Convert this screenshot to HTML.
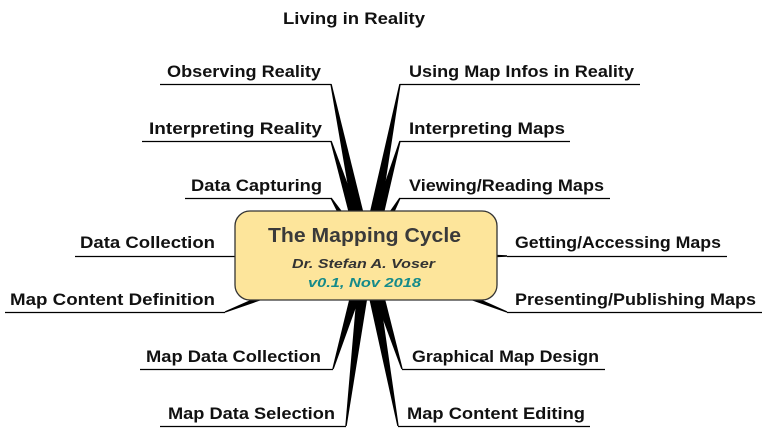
<!DOCTYPE html>
<html><head><meta charset="utf-8"><style>
body{margin:0;background:#fff;}
svg text{font-family:"Liberation Sans","DejaVu Sans",sans-serif;font-weight:bold;font-size:16.5px;fill:#111;}
</style></head><body>
<svg id="s" width="768" height="433" viewBox="0 0 768 433" xmlns="http://www.w3.org/2000/svg">
<g id="w" fill="#000"></g>
<g stroke="#000" stroke-width="1.3" fill="none">
<line x1="160" y1="84.5" x2="331" y2="84.5"/>
<line x1="142" y1="141.5" x2="331" y2="141.5"/>
<line x1="185" y1="198.5" x2="331" y2="198.5"/>
<line x1="75" y1="256.5" x2="235" y2="256.5"/>
<line x1="5" y1="312.5" x2="225" y2="312.5"/>
<line x1="140" y1="369.5" x2="333" y2="369.5"/>
<line x1="160" y1="426.5" x2="346" y2="426.5"/>
<line x1="400" y1="84.5" x2="640" y2="84.5"/>
<line x1="400" y1="141.5" x2="570" y2="141.5"/>
<line x1="400" y1="198.5" x2="610" y2="198.5"/>
<line x1="507" y1="256.5" x2="727" y2="256.5"/>
<line x1="507" y1="312.5" x2="762" y2="312.5"/>
<line x1="402" y1="369.5" x2="605" y2="369.5"/>
<line x1="398" y1="426.5" x2="590" y2="426.5"/>
</g>
<rect x="235" y="211" width="262" height="89" rx="15" fill="#fde59b" stroke="#333" stroke-width="1.3"/>
<g>
<text x="268" y="242" textLength="193" lengthAdjust="spacingAndGlyphs" style="font-size:20px;fill:#3a3a3a">The Mapping Cycle</text>
<text x="292" y="268" textLength="143" lengthAdjust="spacingAndGlyphs" style="font-size:13px;font-style:italic;fill:#333">Dr. Stefan A. Voser</text>
<text x="308" y="287" textLength="113" lengthAdjust="spacingAndGlyphs" style="font-size:13px;font-style:italic;fill:#148a8a">v0.1, Nov 2018</text>
<text x="283" y="24" textLength="142" lengthAdjust="spacingAndGlyphs">Living in Reality</text>
<text x="167" y="77" textLength="154" lengthAdjust="spacingAndGlyphs">Observing Reality</text>
<text x="149" y="134" textLength="173" lengthAdjust="spacingAndGlyphs">Interpreting Reality</text>
<text x="191" y="191" textLength="131" lengthAdjust="spacingAndGlyphs">Data Capturing</text>
<text x="80" y="248" textLength="135" lengthAdjust="spacingAndGlyphs">Data Collection</text>
<text x="10" y="305" textLength="205" lengthAdjust="spacingAndGlyphs">Map Content Definition</text>
<text x="146" y="362" textLength="175" lengthAdjust="spacingAndGlyphs">Map Data Collection</text>
<text x="168" y="419" textLength="167" lengthAdjust="spacingAndGlyphs">Map Data Selection</text>
<text x="409" y="77" textLength="225" lengthAdjust="spacingAndGlyphs">Using Map Infos in Reality</text>
<text x="409" y="134" textLength="156" lengthAdjust="spacingAndGlyphs">Interpreting Maps</text>
<text x="409" y="191" textLength="195" lengthAdjust="spacingAndGlyphs">Viewing/Reading Maps</text>
<text x="515" y="248" textLength="206" lengthAdjust="spacingAndGlyphs">Getting/Accessing Maps</text>
<text x="515" y="305" textLength="241" lengthAdjust="spacingAndGlyphs">Presenting/Publishing Maps</text>
<text x="412" y="362" textLength="187" lengthAdjust="spacingAndGlyphs">Graphical Map Design</text>
<text x="407" y="419" textLength="178" lengthAdjust="spacingAndGlyphs">Map Content Editing</text>
</g>
</svg>
<script>
var pts=[[331,84],[331,141],[331,198],[235,256],[225,312],[333,369],[346,426],
[400,84],[400,141],[400,198],[507,256],[507,312],[402,369],[398,426]];
var cx=367,cy=256,g=document.getElementById('w'),s='';
pts.forEach(function(p){var x=p[0],y=p[1],dx=cx-x,dy=cy-y,L=Math.hypot(dx,dy),nx=-dy/L,ny=dx/L,w=7;
s+='<polygon points="'+(x+nx*0.7)+','+(y+ny*0.7)+' '+(cx+nx*w)+','+(cy+ny*w)+' '+(cx-nx*w)+','+(cy-ny*w)+' '+(x-nx*0.7)+','+(y-ny*0.7)+'"/>';});
g.innerHTML=s;
</script>
</body></html>
